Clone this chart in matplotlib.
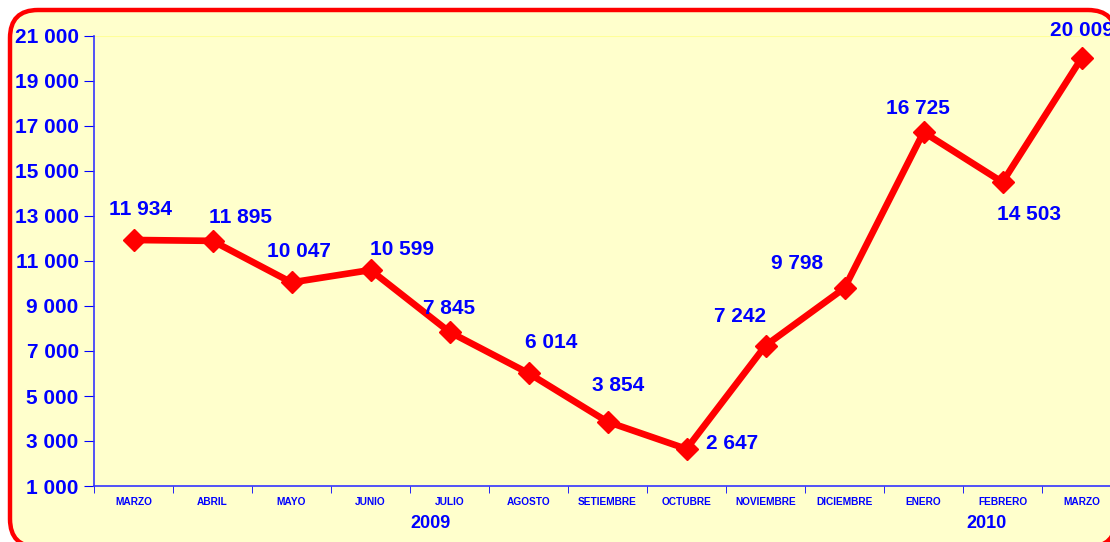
import matplotlib
matplotlib.use("Agg")
import matplotlib.pyplot as plt
from matplotlib.patches import FancyBboxPatch
from matplotlib.ticker import FuncFormatter

months = ["MARZO", "ABRIL", "MAYO", "JUNIO", "JULIO", "AGOSTO", "SETIEMBRE",
          "OCTUBRE", "NOVIEMBRE", "DICIEMBRE", "ENERO", "FEBRERO", "MARZO"]
values = [11934, 11895, 10047, 10599, 7845, 6014, 3854, 2647, 7242, 9798, 16725, 14503, 20009]
label_offsets = [(5, 22), (20, 17), (5, 22), (23, 15), (0, 17), (16, 22), (8, 26),
                 (33, 4), (-18, 21), (-34, 18), (-4, 17), (19, -23), (0, 20)]
years = ["2009", "2010"]
year_pos = [3.76, 10.8]

plt.rcParams['font.family'] = ['Liberation Sans', 'DejaVu Sans']
blue = "#0000FF"
red = "#FF0000"

fig = plt.figure(figsize=(11.1, 5.42), dpi=100)
W, H = 1110, 542
bg = FancyBboxPatch((0.10, -0.05), 11.06, 5.37,
                    boxstyle="round,pad=0,rounding_size=0.28",
                    transform=fig.dpi_scale_trans, facecolor="#FFFFCC",
                    edgecolor=red, linewidth=3.2, zorder=0)
fig.patches.append(bg)

ax = fig.add_axes([94 / W, 1 - 486 / H, (1121 - 94) / W, (486 - 36) / H])
ax.set_zorder(2)
ax.set_facecolor("none")
x = list(range(len(values)))
ax.plot(x, values, color=red, lw=4.8, marker="D", markersize=11,
        markerfacecolor=red, markeredgecolor=red, zorder=3, clip_on=False)
for xi, v, off in zip(x, values, label_offsets):
    txt = f"{v:,}".replace(",", " ")
    ax.annotate(txt, (xi, v), xytext=off, textcoords="offset points",
                ha="center", va="center", color=blue, fontsize=15,
                fontweight="bold", annotation_clip=False, zorder=4)

ax.set_xlim(-0.5, len(values) - 0.5)
ax.set_ylim(1000, 21000)
ax.set_yticks(range(1000, 21001, 2000))
ax.yaxis.set_major_formatter(FuncFormatter(lambda v, p: f"{int(v):,}".replace(",", " ")))
ax.axhline(21000, color="#FFFF99", lw=1.5, zorder=1)

ax.set_xticks(x)
ax.set_xticklabels(months)
ax.set_xticks([i - 0.5 for i in range(len(values) + 1)], minor=True)
ax.tick_params(axis="x", which="major", length=0, pad=8, labelsize=7.3,
               labelcolor=blue)
ax.tick_params(axis="x", which="minor", length=5, color=blue, direction="out")
for lab in ax.get_xticklabels():
    lab.set_fontweight("bold")
ax.tick_params(axis="y", length=7, color=blue, direction="out", labelsize=15,
               labelcolor=blue, pad=4)
for lab in ax.get_yticklabels():
    lab.set_fontweight("bold")

for s in ["top", "right"]:
    ax.spines[s].set_visible(False)
for s in ["left", "bottom"]:
    ax.spines[s].set_color("#3333FF")
    ax.spines[s].set_linewidth(1.2)

for yl, yp in zip(years, year_pos):
    ax.text(yp, -0.083, yl, transform=ax.get_xaxis_transform(), ha="center",
            va="center", color=blue, fontsize=13, fontweight="bold")

fig.savefig("out.png", dpi=100)
